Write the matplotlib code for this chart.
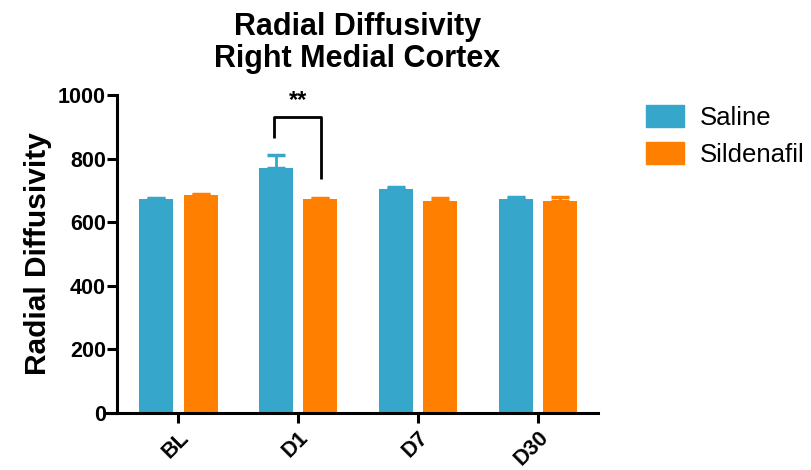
import numpy as np
import matplotlib
matplotlib.use("Agg")
import matplotlib.pyplot as plt
from matplotlib.patches import Patch

plt.rcParams['font.family'] = ['Liberation Sans', 'DejaVu Sans']

# Donnees
timepoints = ["BL", "D1", "D7", "D30"]
saline = [672, 770, 703, 673]
saline_err = [5, 40, 8, 6]
sildenafil = [685, 672, 666, 668]
sildenafil_err = [3, 3, 10, 12]

BLUE = "#37A6CB"
ORANGE = "#FF7F00"

fig = plt.figure(figsize=(8.12, 4.70), dpi=100)
ax = fig.add_axes([0.144, 0.121, 0.592, 0.677])

x = np.arange(len(timepoints))
w = 0.283
off = 0.185

ax.bar(x - off, saline, width=w, color=BLUE, zorder=2)
ax.bar(x + off, sildenafil, width=w, color=ORANGE, zorder=2)
# barres d'erreur vers le haut seulement
ax.errorbar(x - off, saline, yerr=[np.zeros(4), saline_err], fmt='none',
            ecolor=BLUE, elinewidth=2, capsize=6.5, capthick=2.5, zorder=1)
ax.errorbar(x + off, sildenafil, yerr=[np.zeros(4), sildenafil_err], fmt='none',
            ecolor=ORANGE, elinewidth=2, capsize=6.5, capthick=2.5, zorder=1)

# crochet de significativite sur D1
ax.plot([1 - 0.2, 1 - 0.2, 1 + 0.19, 1 + 0.19], [865, 932, 932, 736],
        color='black', lw=2, solid_capstyle='butt', clip_on=False)
ax.text(1 - 0.005, 945, "**", ha='center', va='bottom', fontsize=17,
        fontweight='bold')

ax.set_xlim(-0.514, 3.5)
ax.set_ylim(0, 1000)
ax.set_yticks([0, 200, 400, 600, 800, 1000])
ax.set_xticks(x)
ax.set_xticklabels(timepoints, rotation=45, ha='right', rotation_mode='anchor',
                   fontsize=15.5, fontweight='bold')
for lab in ax.get_yticklabels():
    lab.set_fontweight('bold')
    lab.set_fontsize(15.5)

for s in ['top', 'right']:
    ax.spines[s].set_visible(False)
for s in ['left', 'bottom']:
    ax.spines[s].set_linewidth(2.2)
ax.spines['bottom'].set_bounds(-0.6, 3.5)
ax.tick_params(axis='both', width=2.2, length=7, pad=1)
ax.tick_params(axis='x', pad=3)

ax.set_ylabel("Radial Diffusivity", fontsize=21.5, fontweight='bold', labelpad=4)
ax.set_title("Radial Diffusivity\nRight Medial Cortex", fontsize=22,
             fontweight='bold', pad=20, linespacing=1.1)

handles = [Patch(color=BLUE, label="Saline"),
           Patch(color=ORANGE, label="Sildenafil")]
fig.legend(handles=handles, loc='upper left', bbox_to_anchor=(0.795, 0.776),
           frameon=False, fontsize=18.5, handlelength=1.5, handleheight=0.95,
           handletextpad=0.6, labelspacing=0.45, borderpad=0, borderaxespad=0)

fig.savefig("out.png", dpi=100)
